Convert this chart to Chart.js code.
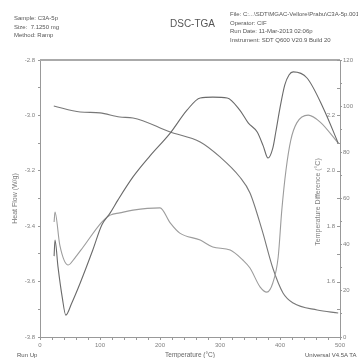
<!DOCTYPE html>
<html>
<head>
<meta charset="utf-8">
<script src="https://cdn.jsdelivr.net/npm/chart.js@4.4.1/dist/chart.umd.min.js"></script>
<style>
    html, body { margin: 0; padding: 0; background: #fff; overflow: hidden; }
    #wrap { position: relative; width: 358px; height: 358px; font-family: "Liberation Sans", Arial, sans-serif; color: #555; }
    #wrap canvas { position: absolute; left: 0; top: 0; }
    .txt { position: absolute; font-size: 6px; line-height: 8.5px; white-space: nowrap; }
    #title { position: absolute; left: 170px; top: 18px; font-size: 10px; color: #555; }
</style>
</head>
<body>
<div id="wrap">
    <canvas id="chart" width="358" height="358"></canvas>
    <div class="txt" style="left:14px; top:14px;">Sample: C3A-5p<br>Size:&nbsp; 7.1250 mg<br>Method: Ramp</div>
    <div id="title">DSC-TGA</div>
    <div class="txt" style="left:230px; top:10px;">File: C:...\SDT\MGAC-Vellore\Prabu\C3A-5p.001<br>Operator: CIF<br>Run Date: 11-Mar-2013 02:06p<br>Instrument: SDT Q600 V20.9 Build 20</div>
    <div class="txt" style="left:17px; top:351px;">Run Up</div>
    <div class="txt" style="left:305px; top:351px;">Universal V4.5A TA Instruments</div>
</div>
<script>
// temperature (°C) / value pairs
const tempHF = [23.5, 25, 30, 37, 43, 53, 67, 88, 103, 117, 130, 155, 183, 217, 245, 267, 288, 312, 333, 347, 362, 372, 380, 388, 393, 400, 408, 415, 422, 445, 472, 497];
const heatFlow = [-3.508, -3.450, -3.547, -3.656, -3.721, -3.677, -3.605, -3.486, -3.396, -3.352, -3.305, -3.222, -3.147, -3.064, -2.981, -2.937, -2.934, -2.937, -2.981, -3.027, -3.060, -3.110, -3.154, -3.118, -3.060, -2.973, -2.890, -2.854, -2.843, -2.865, -2.973, -3.100];

const tempTD = [23.5, 25, 33, 47, 58, 72, 103, 117, 133, 155, 200, 217, 233, 267, 288, 317, 338, 350, 367, 378, 388, 397, 403, 410, 418, 428, 447, 467, 497];
const tempDiff = [1.815, 1.851, 1.732, 1.660, 1.685, 1.725, 1.815, 1.840, 1.848, 1.858, 1.866, 1.812, 1.775, 1.750, 1.725, 1.714, 1.678, 1.649, 1.580, 1.562, 1.595, 1.689, 1.858, 2.003, 2.111, 2.173, 2.201, 2.176, 2.100];

const tempWt = [23, 67, 100, 133, 155, 217, 267, 300, 333, 350, 370, 388, 405, 422, 462, 497];
const weight = [100.1, 97.5, 97.1, 95.3, 94.9, 88.8, 84.5, 78.0, 69.3, 62.4, 46.4, 29.9, 19.1, 14.7, 11.7, 10.4];

const tdLabels = [1.6, 1.8, 2.0, 2.2];

const GREY = '#999';
const TICK = '#808080';

function _pairs(xs, ys) {
    return xs.map((x, i) => ({ x, y: ys[i] }));
}

function _line(data, axis, color) {
    return {
        data, yAxisID: axis, borderColor: color, borderWidth: 1.1,
        pointRadius: 0, cubicInterpolationMode: 'monotone', fill: false,
    };
}

// extra bits of the TA printout: heavy top frame, inner ΔT axis, its title
const frame = {
    id: 'frame',
    afterDraw(chart) {
        const { ctx, chartArea: a } = chart;
        const td = chart.scales.yTd;
        ctx.save();
        ctx.strokeStyle = '#aaa';
        ctx.lineWidth = 2;
        ctx.beginPath();
        ctx.moveTo(a.left, a.top);
        ctx.lineTo(a.right, a.top);
        ctx.stroke();

        ctx.lineWidth = 1;
        ctx.strokeStyle = GREY;
        for (let v = 1.4; v <= 2.41; v += 0.1) {
            const y = Math.round(td.getPixelForValue(v)) + 0.5;
            ctx.beginPath();
            ctx.moveTo(a.right - 3, y);
            ctx.lineTo(a.right, y);
            ctx.stroke();
        }
        ctx.fillStyle = TICK;
        ctx.font = '6px "Liberation Sans", Arial, sans-serif';
        ctx.textAlign = 'right';
        ctx.textBaseline = 'middle';
        for (const v of tdLabels) {
            ctx.fillText(v.toFixed(1), a.right - 5, td.getPixelForValue(v));
        }

        ctx.translate(318, 202);
        ctx.rotate(-Math.PI / 2);
        ctx.textAlign = 'center';
        ctx.font = '7px "Liberation Sans", Arial, sans-serif';
        ctx.fillText('Temperature Difference (°C)', 0, 0);
        ctx.restore();
    },
};

const tickFont = { family: '"Liberation Sans", Arial, sans-serif', size: 6 };

new Chart(document.getElementById('chart'), {
    type: 'line',
    data: {
        datasets: [
            _line(_pairs(tempHF, heatFlow), 'yHF', '#6a6a6a'),
            _line(_pairs(tempTD, tempDiff), 'yTd', '#9c9c9c'),
            _line(_pairs(tempWt, weight), 'yWt', '#787878'),
        ],
    },
    options: {
        responsive: false, animation: false, devicePixelRatio: 1,
        layout: { padding: { top: 60, left: 11, right: 0, bottom: 0 } },
        plugins: { legend: { display: false }, tooltip: { enabled: false } },
        scales: {
            x: {
                type: 'linear', min: 0, max: 500,
                afterFit: s => { s.height = 21; },
                grid: { drawOnChartArea: false, tickLength: 3, color: GREY },
                border: { color: GREY },
                ticks: {
                    stepSize: 20, autoSkip: false, maxRotation: 0, padding: 2,
                    color: TICK, font: tickFont,
                    callback: v => (v % 100 === 0 ? String(v) : ''),
                },
                title: {
                    display: true, text: 'Temperature (°C)', color: '#666',
                    font: { family: tickFont.family, size: 6.5, lineHeight: 1 }, padding: 0,
                },
            },
            yHF: {
                position: 'left', min: -3.8, max: -2.8,
                afterFit: s => { s.width = 29; },
                grid: { drawOnChartArea: false, tickLength: 2, color: GREY },
                border: { color: GREY },
                ticks: {
                    stepSize: 0.1, autoSkip: false, padding: 3, color: TICK, font: tickFont,
                    callback: v => (Math.round(v * 10) % 2 === 0 ? v.toFixed(1) : ''),
                },
                title: {
                    display: true, text: 'Heat Flow (W/g)', color: '#777',
                    font: { family: tickFont.family, size: 7, lineHeight: 1.2 }, padding: 0,
                },
            },
            yWt: {
                position: 'right', min: 0, max: 120,
                afterFit: s => { s.width = 18; },
                grid: { drawOnChartArea: false, tickLength: 2, color: GREY },
                border: { color: GREY },
                ticks: {
                    stepSize: 10, autoSkip: false, padding: 1, color: TICK, font: tickFont,
                    callback: v => (v % 20 === 0 ? String(v) : ''),
                },
            },
            yTd: { display: false, min: 1.4, max: 2.4 },
        },
    },
    plugins: [frame],
});
</script>
</body>
</html>
